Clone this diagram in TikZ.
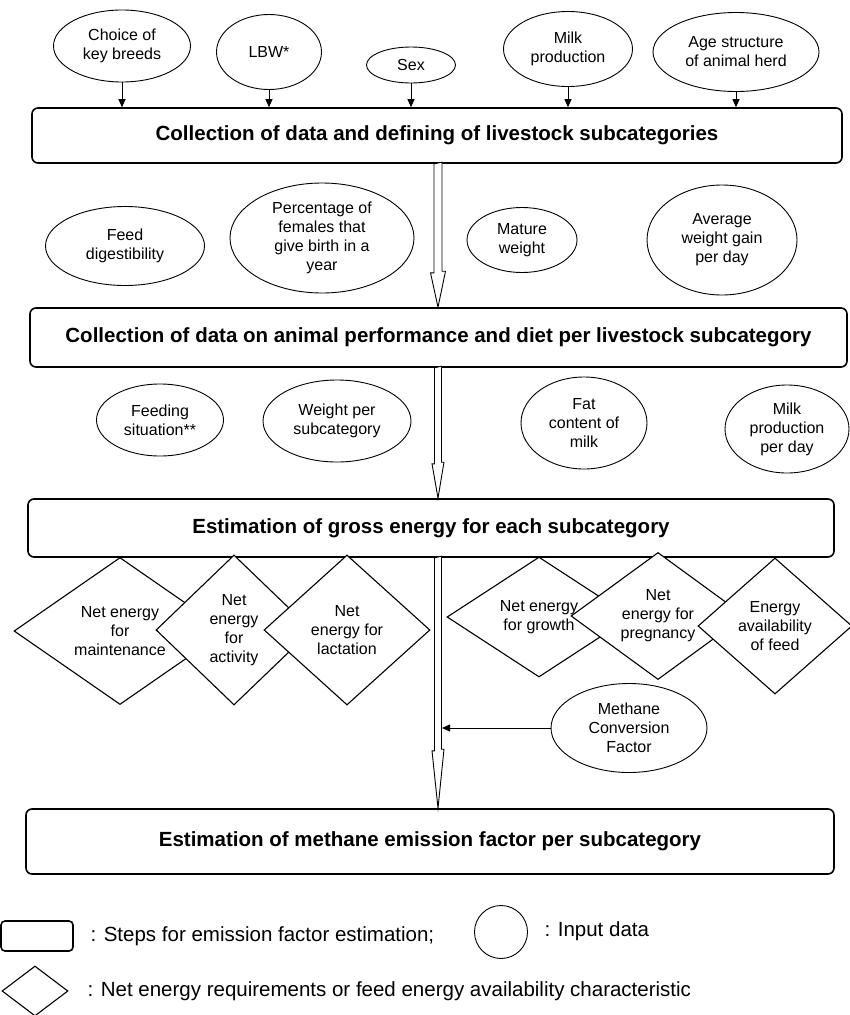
\documentclass[tikz,border=0pt]{standalone}
\usepackage{fontspec}
\setmainfont{Liberation Sans}
\usetikzlibrary{shapes.geometric,arrows.meta}

\begin{document}
\begin{tikzpicture}[x=1pt, y=1pt,
  stepbox/.style={draw, line width=1.6pt, rounded corners=6pt,
    font=\fontsize{20.5}{24}\selectfont\bfseries},
  inputdata/.style={draw, ellipse, line width=0.9pt, inner sep=0pt, align=center,
    font=\fontsize{16}{19}\selectfont},
  energy/.style={draw, diamond, fill=white, line width=1.1pt, inner sep=0pt, align=center,
    font=\fontsize{16}{19}\selectfont},
  feeds/.style={-{Triangle[length=8pt,width=7pt]}, line width=0.9pt},
  flow/.style={draw, fill=white, line width=0.9pt, line join=miter},
  legendtext/.style={anchor=west, font=\fontsize{20.5}{24}\selectfont}]
  \useasboundingbox (0,0) rectangle (849,-1015);
  \coordinate (axis) at (438,0);

  % input data for the subcategories
  \node[inputdata, minimum width=137pt, minimum height=72pt] (breeds) at (122,-46) {Choice of\\key breeds};
  \node[inputdata, minimum width=105pt, minimum height=75pt] (lbw) at (269,-52) {LBW*};
  \node[inputdata, minimum width=89pt, minimum height=36pt] (sex) at (411,-65) {Sex};
  \node[inputdata, minimum width=129pt, minimum height=75pt] (milk) at (568,-49) {Milk\\production};
  \node[inputdata, minimum width=166pt, minimum height=79pt] (age) at (736,-52) {Age structure\\of animal herd};

  \node[stepbox, minimum width=810pt, minimum height=55pt] (b1) at (437,-135.5)
    {Collection of data and defining of livestock subcategories};
  \foreach \n in {breeds,lbw,sex,milk,age}
    \draw[feeds] (\n) -- (\n |- b1.north);

  % animal performance
  \node[inputdata, minimum width=159pt, minimum height=79pt] (digest) at (125,-246) {Feed\\digestibility};
  \node[inputdata, minimum width=184pt, minimum height=110pt] (births) at (322,-238) {Percentage of\\females that\\give birth in a\\year};
  \node[inputdata, minimum width=110pt, minimum height=65pt] (mature) at (522,-240) {Mature\\weight};
  \node[inputdata, minimum width=150pt, minimum height=110pt] (gain) at (722,-240) {Average\\weight gain\\per day};

  \node[stepbox, minimum width=817pt, minimum height=59pt] (b2) at (438.5,-337.5)
    {Collection of data on animal performance and diet per livestock subcategory};
  \draw[flow] (b1.south -| axis) ++(-4,0) -- ++(0,-109) -- ++(-3.5,0) -- (b2.north -| axis)
    -- ++(7.5,36) -- ++(-3.5,0) -- ++(0,109) -- cycle;

  \node[inputdata, minimum width=127pt, minimum height=72pt] (feeding) at (160,-420) {Feeding\\situation**};
  \node[inputdata, minimum width=148pt, minimum height=82pt] (weight) at (337,-421) {Weight per\\subcategory};
  \node[inputdata, minimum width=126pt, minimum height=92pt] (fat) at (584,-423) {Fat\\content of\\milk};
  \node[inputdata, minimum width=124pt, minimum height=88pt] (perday) at (787,-429) {Milk\\production\\per day};

  \node[stepbox, minimum width=806pt, minimum height=58pt] (b3) at (431,-528)
    {Estimation of gross energy for each subcategory};
  \draw[flow] (b2.south -| axis) ++(-3.5,0) -- ++(0,-96) -- ++(-2.5,0) -- (b3.north -| axis)
    -- ++(6,36) -- ++(-2.5,0) -- ++(0,96) -- cycle;

  % net energy requirements
  \node[energy, minimum width=212pt, minimum height=147pt] (maint) at (120,-631) {Net energy\\for\\maintenance};
  \node[energy, minimum width=156pt, minimum height=150pt] (activ) at (234,-630) {Net\\energy\\for\\activity};
  \node[energy, minimum width=166pt, minimum height=150pt] (lact) at (347,-630) {Net\\energy for\\lactation};
  \node[energy, minimum width=184pt, minimum height=120pt] (growth) at (539,-617) {Net energy\\for growth};
  \node[energy, minimum width=174pt, minimum height=122pt] (preg) at (658,-616) {Net\\energy for\\pregnancy};
  \node[energy, minimum width=154pt, minimum height=136pt] (avail) at (775,-626) {Energy\\availability\\of feed};

  \node[inputdata, minimum width=156pt, minimum height=89pt] (mcf) at (629,-728) {Methane\\Conversion\\Factor};

  \node[stepbox, minimum width=808pt, minimum height=65pt] (b4) at (430,-841.5)
    {Estimation of methane emission factor per subcategory};
  \draw[flow] (b3.south -| axis) ++(-3.5,0) -- ++(0,-193) -- ++(-2.5,0) -- (b4.north -| axis)
    -- ++(6,59) -- ++(-2.5,0) -- ++(0,193) -- cycle;
  \coordinate (hit) at (442,-726);
  \draw[feeds] (mcf.west) -- (mcf.west -| hit);

  % legend
  \node[stepbox, minimum width=72pt, minimum height=30pt, rounded corners=4pt] (lgbox) at (37,-936) {};
  \node[legendtext] at (87,-936) {: Steps for emission factor estimation;};
  \node[inputdata, minimum width=53pt, minimum height=53pt] (lgdata) at (501,-932) {};
  \node[legendtext] at (541,-931) {: Input data};
  \node[energy, minimum width=66pt, minimum height=50pt] (lgenergy) at (35,-991) {};
  \node[legendtext] at (84,-991) {: Net energy requirements or feed energy availability characteristic};
\end{tikzpicture}
\end{document}
